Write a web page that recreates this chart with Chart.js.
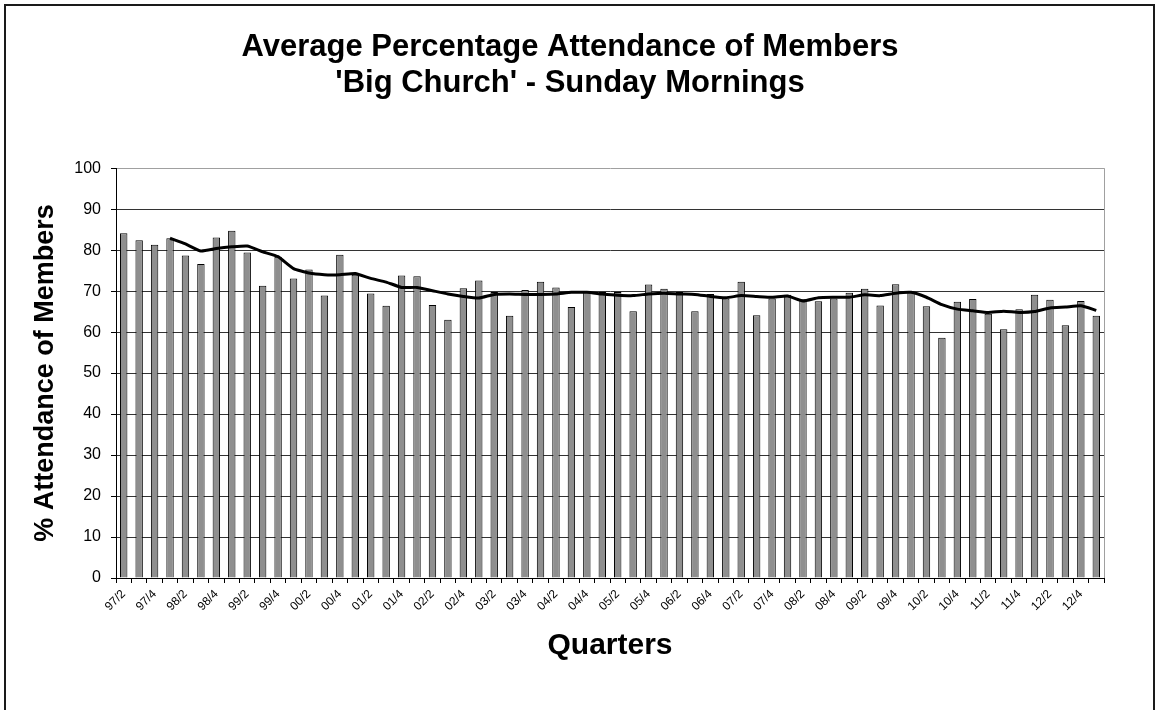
<!DOCTYPE html>
<html>
<head>
<meta charset="utf-8">
<script src="https://cdn.jsdelivr.net/npm/chart.js@4.4.1/dist/chart.umd.min.js"></script>
<style>
  html, body { margin: 0; padding: 0; background: #fff; }
  #wrap { width: 1160px; height: 710px; }
</style>
</head>
<body>
<div id="wrap"><canvas id="c" width="1160" height="710"></canvas></div>
<script>
const quarters = ["97/2","97/3","97/4","98/1","98/2","98/3","98/4","99/1","99/2","99/3","99/4",
  "00/1","00/2","00/3","00/4","01/1","01/2","01/3","01/4","02/1","02/2","02/3","02/4",
  "03/1","03/2","03/3","03/4","04/1","04/2","04/3","04/4","05/1","05/2","05/3","05/4",
  "06/1","06/2","06/3","06/4","07/1","07/2","07/3","07/4","08/1","08/2","08/3","08/4",
  "09/1","09/2","09/3","09/4","10/1","10/2","10/3","10/4","11/1","11/2","11/3","11/4",
  "12/1","12/2","12/3","12/4","13/1"];

const attendance = [84.1,82.4,81.3,82.9,78.7,76.6,83.1,84.7,79.4,71.3,78.4,
  73.1,75.3,68.9,78.9,74.0,69.4,66.4,73.8,73.6,66.6,63.0,70.7,
  72.6,69.8,64.0,70.3,72.3,70.9,66.1,69.7,69.8,69.8,65.1,71.6,
  70.6,69.8,65.1,69.3,68.2,72.3,64.1,68.2,69.1,68.0,67.5,68.2,
  69.6,70.6,66.5,71.7,69.7,66.3,58.6,67.4,68.1,64.5,60.7,65.6,
  69.1,67.9,61.7,67.6,64.0];

const movingAverage = [null,null,null,82.9,81.5,79.8,80.4,80.8,81.0,79.6,78.4,
  75.5,74.4,74.0,74.0,74.3,73.1,72.2,70.9,70.9,70.1,69.3,68.7,
  68.3,69.2,69.3,69.2,69.2,69.3,69.7,69.7,69.3,69.0,68.9,69.3,
  69.5,69.3,69.2,68.7,68.4,68.9,68.7,68.5,68.8,67.6,68.4,68.5,
  68.5,69.1,68.9,69.5,69.7,68.5,66.7,65.6,65.2,64.8,65.1,64.8,
  65.0,65.9,66.1,66.4,65.3];

const yTicks = [0,10,20,30,40,50,60,70,80,90,100];
const titleLines = ["Average Percentage Attendance of Members", "'Big Church' - Sunday Mornings"];
const xTitle = "Quarters";
const yTitle = "% Attendance of Members";

const FONT = "'Liberation Sans', Arial, sans-serif";

const framePlugin = {
  id: 'frame',
  beforeDraw(chart) {
    const ctx = chart.ctx;
    ctx.save();
    ctx.fillStyle = '#fff';
    ctx.fillRect(0, 0, chart.width, chart.height);
    ctx.strokeStyle = '#1a1a1a';
    ctx.lineWidth = 2;
    ctx.strokeRect(5, 5, chart.width - 11, chart.height + 20);
    ctx.restore();
  },
  beforeDatasetsDraw(chart) {
    const a = chart.chartArea;
    const ctx = chart.ctx;
    ctx.save();
    ctx.strokeStyle = '#a0a0a0';
    ctx.lineWidth = 1;
    ctx.beginPath();
    ctx.moveTo(Math.round(a.right) + 0.5, a.top);
    ctx.lineTo(Math.round(a.right) + 0.5, a.bottom);
    ctx.stroke();
    ctx.restore();
  }
};

new Chart(document.getElementById('c'), {
  type: 'bar',
  data: {
    labels: quarters,
    datasets: [
      {
        type: 'line',
        label: '4 per. Mov. Avg.',
        data: movingAverage,
        borderColor: '#000',
        borderWidth: 3,
        pointRadius: 0,
        tension: 0.15,
        fill: false,
        spanGaps: false,
        order: 0
      },
      {
        type: 'bar',
        label: 'Attendance',
        data: attendance,
        backgroundColor: '#8f8f8f',
        borderColor: '#000',
        borderWidth: 1,
        barPercentage: 0.48,
        categoryPercentage: 1,
        order: 1
      }
    ]
  },
  options: {
    responsive: false,
    animation: false,
    layout: { padding: { left: 36, right: 56, top: 0, bottom: 0 } },
    plugins: {
      legend: { display: false },
      tooltip: { enabled: false },
      title: {
        display: true,
        text: titleLines,
        color: '#000',
        font: { family: FONT, size: 31, weight: 'bold', lineHeight: 1.18 },
        padding: { top: 29, bottom: 66 }
      }
    },
    scales: {
      x: {
        offset: true,
        grid: { drawOnChartArea: false, drawTicks: true, tickLength: 5, tickColor: '#000', offset: true },
        border: { display: true, color: '#000', width: 1 },
        ticks: {
          autoSkip: false,
          minRotation: 45,
          maxRotation: 45,
          color: '#000',
          padding: 4,
          font: { family: FONT, size: 12 },
          callback: function(value, index) { return index % 2 === 0 ? quarters[index] : ''; }
        },
        title: {
          display: true,
          text: xTitle,
          color: '#000',
          font: { family: FONT, size: 30, weight: 'bold', lineHeight: 1.2 },
          padding: { top: 0, bottom: 46 }
        },
        afterFit(scale) { scale.height = 132; }
      },
      y: {
        min: 0,
        max: 100,
        afterBuildTicks(scale) { scale.ticks = yTicks.map(v => ({ value: v })); },
        grid: {
          color: (c) => (c.tick && c.tick.value === 100) ? '#a0a0a0' : '#333',
          lineWidth: 1,
          tickLength: 5,
          tickColor: '#000'
        },
        border: { display: true, color: '#000', width: 1 },
        ticks: {
          color: '#000',
          padding: 10,
          font: { family: FONT, size: 16 }
        },
        title: {
          display: true,
          text: yTitle,
          color: '#000',
          font: { family: FONT, size: 27, weight: 'bold', lineHeight: 0.74 },
          padding: { top: 0, bottom: 0 }
        },
        afterFit(scale) { scale.width = 80; }
      }
    }
  },
  plugins: [framePlugin]
});
</script>
</body>
</html>
